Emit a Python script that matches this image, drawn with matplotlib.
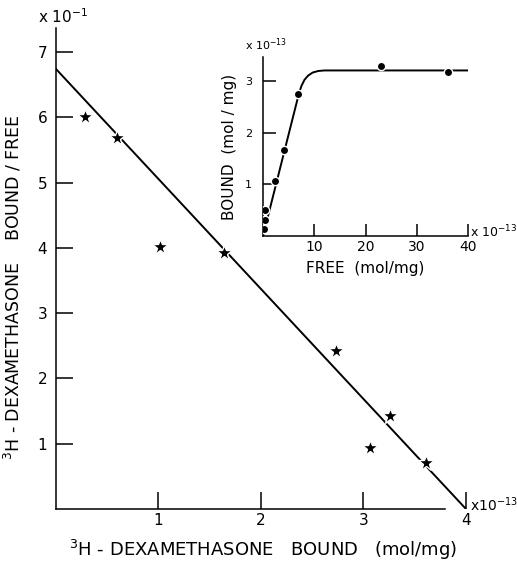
import matplotlib
matplotlib.use('Agg')
import matplotlib.pyplot as plt

plt.rcParams['font.family'] = ['DejaVu Sans']

# Scatchard plot (main) - bound (x10^-13 mol/mg) vs bound/free (x10^-1)
bound = [0.29, 0.60, 1.02, 1.64, 2.73, 3.06, 3.26, 3.61]
ratio = [6.00, 5.69, 4.02, 3.93, 2.42, 0.94, 1.42, 0.71]
fit_x = [0.0, 4.0]
fit_y = [6.75, 0.0]

# saturation inset - free vs bound (x10^-13 mol/mg)
free = [0.1, 0.3, 0.4, 2.3, 4.0, 6.8, 23.1, 36.1]
bound_in = [0.13, 0.50, 0.31, 1.06, 1.66, 2.74, 3.29, 3.17]
curve_x = [0.0, 7.0, 7.5, 8.1, 8.8, 9.7, 10.8, 12.0, 40.0]
curve_y = [0.0, 2.75, 2.9, 3.02, 3.1, 3.16, 3.19, 3.2, 3.2]

W, H = 517, 566
fig = plt.figure(figsize=(W / 100, H / 100), dpi=100)

ax = fig.add_axes([55.5 / W, 57 / H, (466 - 55.5) / W, (509 - 28) / H])
ax.plot(fit_x, fit_y, color='black', lw=1.4, zorder=2)
ax.plot(bound, ratio, ls='none', marker='*', ms=12, color='black',
        markeredgecolor='white', markeredgewidth=1.0, zorder=3)
ax.set_xlim(0, 4)
ax.set_ylim(0, 7.37)
ax.set_xticks([1, 2, 3, 4])
ax.set_yticks([1, 2, 3, 4, 5, 6, 7])
ax.tick_params(direction='in', length=12, width=1.1, labelsize=11, pad=6)
ax.tick_params(axis='x', pad=3)
for s in ['top', 'right']:
    ax.spines[s].set_visible(False)
for s in ['left', 'bottom']:
    ax.spines[s].set_linewidth(1.1)
ax.spines['bottom'].set_bounds(0, 3.8)
ax.set_xlabel(r'$^3$H - DEXAMETHASONE   BOUND   (mol/mg)', fontsize=13)
ax.set_ylabel(r'$^3$H - DEXAMETHASONE    BOUND / FREE', fontsize=12.5)
ax.xaxis.set_label_coords(0.505, -0.06)
ax.yaxis.set_label_coords(-0.079, 0.46)
fig.text(38 / W, 1 - 17 / H, r'x 10$^{-1}$', fontsize=11, va='center')
fig.text(470 / W, 1 - 505 / H, r'x10$^{-13}$', fontsize=10, va='center')

# inset
ins = fig.add_axes([263 / W, 1 - 236 / H, (468 - 263) / W, (236 - 57) / H])
ins.plot(curve_x, curve_y, color='black', lw=1.4, zorder=2)
ins.plot(free, bound_in, ls='none', marker='o', ms=6, color='black',
         markeredgecolor='white', markeredgewidth=1.0, zorder=3)
ins.set_xlim(0, 40)
ins.set_ylim(0, 3.46)
ins.set_xticks([10, 20, 30, 40])
ins.set_yticks([1, 2, 3])
ins.tick_params(direction='in', length=9, width=1.1, labelsize=10, pad=3)
ins.tick_params(axis='y', labelsize=8, pad=8)
for s in ['top', 'right']:
    ins.spines[s].set_visible(False)
for s in ['left', 'bottom']:
    ins.spines[s].set_linewidth(1.1)
ins.set_xlabel('FREE  (mol/mg)', fontsize=11, labelpad=5)
ins.set_ylabel('BOUND  (mol / mg)', fontsize=11)
ins.yaxis.set_label_coords(-0.127, 0.5)
fig.text(245 / W, 1 - 45 / H, r'x 10$^{-13}$', fontsize=8, va='center')
fig.text(470 / W, 1 - 232 / H, r'x 10$^{-13}$', fontsize=9, va='center')

fig.savefig('out.png', dpi=100, facecolor='white')
